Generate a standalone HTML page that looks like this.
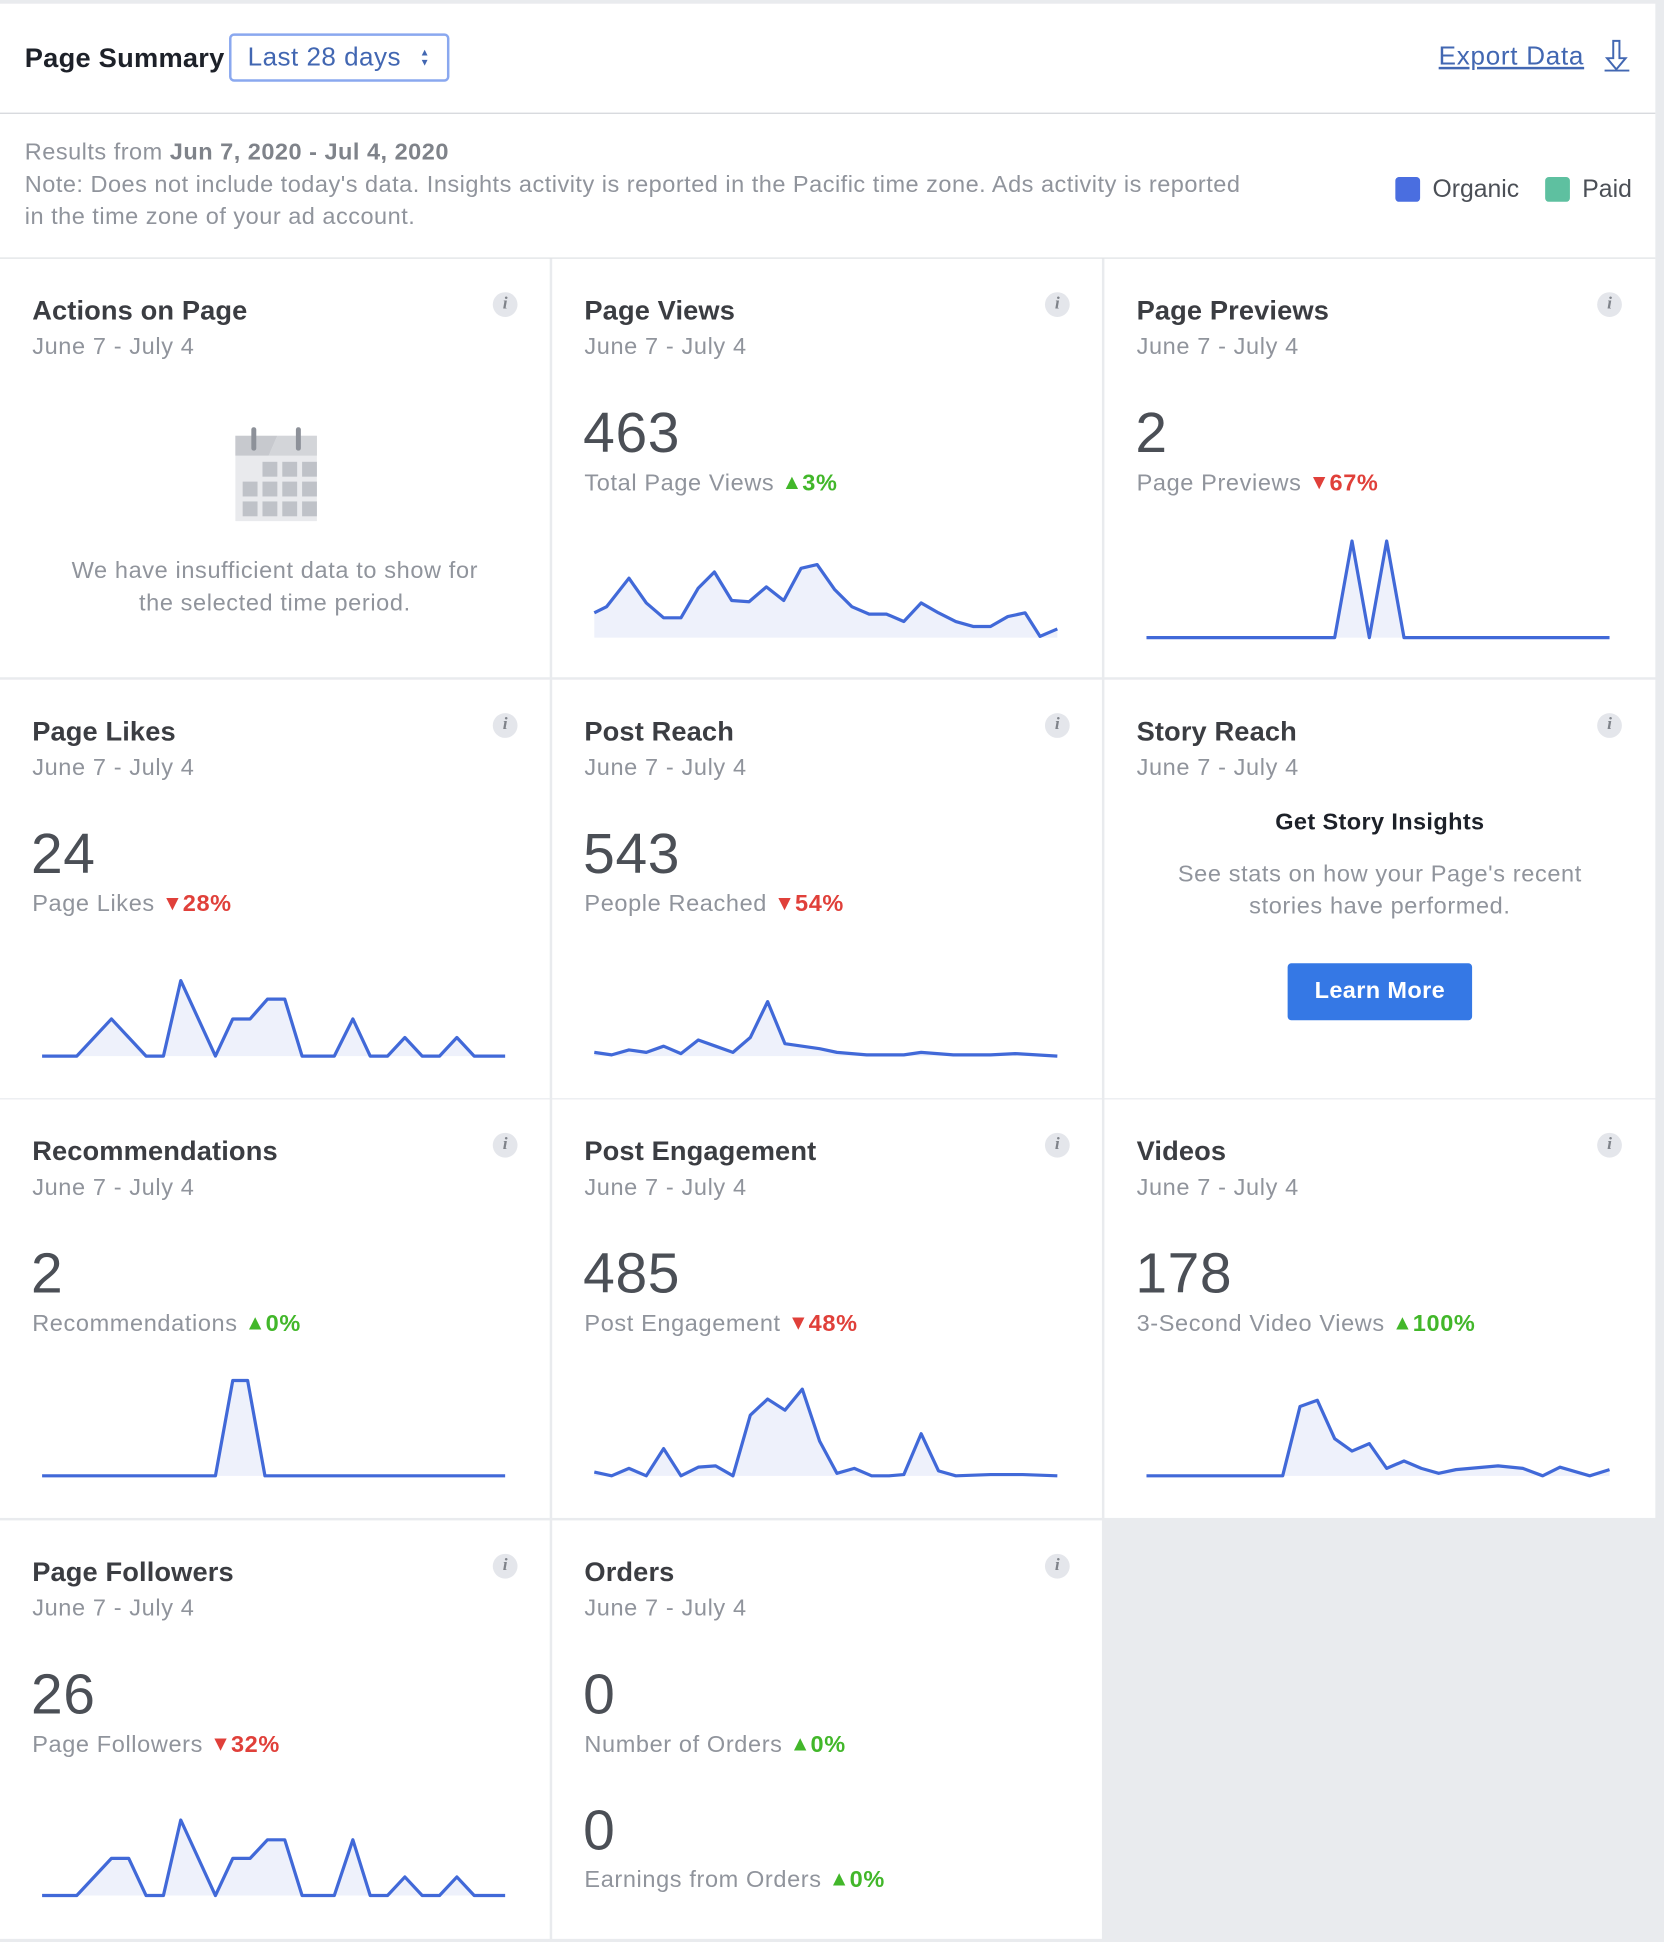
<!DOCTYPE html>
<html><head><meta charset="utf-8">
<style>
html,body{margin:0;padding:0;background:#e9ebee;width:1664px;height:1942px;overflow:hidden}
#w{position:absolute;left:0;top:0;width:1344px;height:1568px;transform:scale(1.2381);transform-origin:0 0;font-family:"Liberation Sans",sans-serif;background:#e9ebee}
.a{position:absolute;white-space:nowrap}
.card{position:absolute;background:#fff;width:444px;height:338px}
.tt{position:absolute;left:26px;top:27px;font-size:22px;font-weight:bold;color:#3b3d42;line-height:30px;letter-spacing:0.1px}
.dt{position:absolute;left:26px;top:58px;font-size:19px;color:#90949c;line-height:28px;letter-spacing:0.5px}
.nm{position:absolute;left:25px;top:111px;font-size:46px;color:#4b4f56;line-height:58px;letter-spacing:0.5px}
.sb{position:absolute;left:26px;top:168px;font-size:19px;color:#90949c;line-height:28px;letter-spacing:0.5px}
.up{color:#42b72a;font-weight:bold}
.dn{color:#e0403a;font-weight:bold}
.tri{font-size:17px;position:relative;top:-1px;letter-spacing:0}
.inf{position:absolute;left:398px;top:27px;width:20px;height:20px;border-radius:50%;background:#e4e6eb;color:#7f838a;font:italic bold 14px "Liberation Serif",serif;text-align:center;line-height:20px}
</style></head><body><div id="w">
<div class="a" style="left:0;top:3px;width:1337px;height:88px;background:#fff;border-bottom:1px solid #d0d3d8"></div>
<div class="a" style="left:20px;top:32px;font-size:22px;font-weight:bold;color:#1d2129;line-height:30px;letter-spacing:0.2px">Page Summary</div>
<div class="a" style="left:185px;top:27px;width:178px;height:39px;border:2px solid #8aa8ef;border-radius:4px;box-sizing:border-box;font-size:21px;color:#4267b2;line-height:35px;padding-left:13px;letter-spacing:0.4px">Last 28 days</div>
<div class="a" style="left:339px;top:39px;font-size:8px;color:#4267b2;line-height:8px">&#9650;<br>&#9660;</div>
<div class="a" style="left:1162px;top:31px;font-size:21px;color:#4267b2;text-decoration:underline;line-height:30px;letter-spacing:0.6px">Export Data</div>
<svg class="a" style="left:1294px;top:30px" width="24" height="30"><path d="M9 3h5v14h5l-7.5 9-7.5-9h5z" fill="none" stroke="#4267b2" stroke-width="1.6"/><line x1="2" y1="27" x2="22" y2="27" stroke="#4267b2" stroke-width="1.6"/></svg>
<div class="a" style="left:0;top:92px;width:1337px;height:116px;background:#fff;border-bottom:1px solid #dddfe2"></div>
<div class="a" style="left:20px;top:111px;font-size:19px;color:#90949c;line-height:26px;white-space:normal;width:1035px;letter-spacing:0.4px">Results from <b style="color:#7f838a">Jun 7, 2020 - Jul 4, 2020</b><br>Note: Does not include today's data. Insights activity is reported in the Pacific time zone. Ads activity is reported<br>in the time zone of your ad account.</div>
<div class="a" style="left:1127px;top:143px;width:20px;height:20px;border-radius:3px;background:#4a6ee0"></div>
<div class="a" style="left:1157px;top:139px;font-size:20px;color:#4b4f56;line-height:28px">Organic</div>
<div class="a" style="left:1248px;top:143px;width:20px;height:20px;border-radius:3px;background:#5ec0a0"></div>
<div class="a" style="left:1278px;top:139px;font-size:20px;color:#4b4f56;line-height:28px">Paid</div>

<div class="card" style="left:0;top:209px">
 <div class="tt">Actions on Page</div><div class="dt">June 7 - July 4</div><div class="inf">i</div>
 <svg class="a" style="left:190px;top:136px" width="66" height="76"><rect x="0" y="7" width="66" height="69" fill="#e9eaed"/><path d="M0 7h34l-7 16H0z" fill="#c7c9ce"/><path d="M34 7h32v16H27z" fill="#d3d5d9"/><rect x="13" y="0" width="4" height="19" rx="2" fill="#8d9199"/><rect x="49" y="0" width="4" height="19" rx="2" fill="#8d9199"/>
 <g fill="#bfc2c8"><rect x="22" y="28" width="12" height="12"/><rect x="38" y="28" width="12" height="12"/><rect x="54" y="28" width="12" height="12"/><rect x="6" y="44" width="12" height="12"/><rect x="22" y="44" width="12" height="12"/><rect x="38" y="44" width="12" height="12"/><rect x="54" y="44" width="12" height="12"/><rect x="6" y="60" width="12" height="12"/><rect x="22" y="60" width="12" height="12"/><rect x="38" y="60" width="12" height="12"/><rect x="54" y="60" width="12" height="12"/></g></svg>
 <div class="a" style="left:0;width:444px;top:240px;text-align:center;font-size:19px;color:#90949c;line-height:26px;white-space:normal;letter-spacing:0.5px">We have insufficient data to show for<br>the selected time period.</div>
</div>
<div class="card" style="left:446px;top:209px">
 <div class="tt">Page Views</div><div class="dt">June 7 - July 4</div><div class="inf">i</div>
 <div class="nm">463</div><div class="sb">Total Page Views <span class="up"><span class="tri">&#9650;</span>3%</span></div>
</div>
<div class="card" style="left:892px;top:209px;width:445px">
 <div class="tt">Page Previews</div><div class="dt">June 7 - July 4</div><div class="inf">i</div>
 <div class="nm">2</div><div class="sb">Page Previews <span class="dn"><span class="tri">&#9660;</span>67%</span></div>
</div>
<div class="card" style="left:0;top:549px">
 <div class="tt">Page Likes</div><div class="dt">June 7 - July 4</div><div class="inf">i</div>
 <div class="nm">24</div><div class="sb">Page Likes <span class="dn"><span class="tri">&#9660;</span>28%</span></div>
</div>
<div class="card" style="left:446px;top:549px">
 <div class="tt">Post Reach</div><div class="dt">June 7 - July 4</div><div class="inf">i</div>
 <div class="nm">543</div><div class="sb">People Reached <span class="dn"><span class="tri">&#9660;</span>54%</span></div>
</div>
<div class="card" style="left:892px;top:549px;width:445px">
 <div class="tt">Story Reach</div><div class="dt">June 7 - July 4</div><div class="inf">i</div>
 <div class="a" style="left:0;width:445px;top:102px;text-align:center;font-size:19px;font-weight:bold;color:#1d2129;line-height:28px;letter-spacing:0.3px">Get Story Insights</div>
 <div class="a" style="left:0;width:445px;top:145px;text-align:center;font-size:19px;color:#90949c;line-height:26px;white-space:normal;letter-spacing:0.5px">See stats on how your Page's recent<br>stories have performed.</div>
 <div class="a" style="left:148px;top:229px;width:149px;height:46px;border-radius:3px;background:#3578e5;color:#fff;font-size:19px;font-weight:bold;text-align:center;line-height:46px;letter-spacing:0.3px">Learn More</div>
</div>
<div class="card" style="left:0;top:888px">
 <div class="tt">Recommendations</div><div class="dt">June 7 - July 4</div><div class="inf">i</div>
 <div class="nm">2</div><div class="sb">Recommendations <span class="up"><span class="tri">&#9650;</span>0%</span></div>
</div>
<div class="card" style="left:446px;top:888px">
 <div class="tt">Post Engagement</div><div class="dt">June 7 - July 4</div><div class="inf">i</div>
 <div class="nm">485</div><div class="sb">Post Engagement <span class="dn"><span class="tri">&#9660;</span>48%</span></div>
</div>
<div class="card" style="left:892px;top:888px;width:445px">
 <div class="tt">Videos</div><div class="dt">June 7 - July 4</div><div class="inf">i</div>
 <div class="nm">178</div><div class="sb">3-Second Video Views <span class="up"><span class="tri">&#9650;</span>100%</span></div>
</div>
<div class="card" style="left:0;top:1228px">
 <div class="tt">Page Followers</div><div class="dt">June 7 - July 4</div><div class="inf">i</div>
 <div class="nm">26</div><div class="sb">Page Followers <span class="dn"><span class="tri">&#9660;</span>32%</span></div>
</div>
<div class="card" style="left:446px;top:1228px">
 <div class="tt">Orders</div><div class="dt">June 7 - July 4</div><div class="inf">i</div>
 <div class="nm">0</div><div class="sb">Number of Orders <span class="up"><span class="tri">&#9650;</span>0%</span></div>
 <div class="nm" style="top:221px">0</div><div class="sb" style="top:277px">Earnings from Orders <span class="up"><span class="tri">&#9650;</span>0%</span></div>
</div>

<svg class="a" style="left:0;top:0" width="1344" height="1568">
<g fill="#eef1fb" stroke="none">
<polygon points="480,515 480,495 490,490 508,467 522,487 536,499 550,499 564,475 577,462 591,485 605,486 619,474 633,485 647,459 660,456 674,476 688,490 702,496 716,496 730,502 744,487 758,495 772,502 786,506 800,506 814,498 828,495 840,514 854,508 854,515"/>
<polygon points="1078,515 1092,437 1106,515 1120,437 1134,515"/>
<polygon points="34,853 62,853 90,823 118,853 132,853 146,792 174,853 188,823 202,823 216,807 230,807 244,853 270,853 285,823 299,853 313,853 327,838 341,853 355,853 369,838 383,853"/>
<polygon points="480,853 480,850 494,852 508,848 522,850 536,845 550,851 564,840 578,845 592,850 606,838 620,809 634,843 648,845 662,847 676,850 700,852 730,852 744,850 770,852 800,852 820,851 854,853"/>
<polygon points="174,1192 188,1115 200,1115 214,1192"/>
<polygon points="480,1192 480,1189 494,1192 508,1186 522,1192 536,1170 550,1192 564,1185 578,1184 592,1192 606,1143 620,1130 634,1139 648,1122 662,1164 676,1190 690,1186 704,1192 718,1192 730,1191 744,1158 758,1188 772,1192 800,1191 826,1191 854,1192"/>
<polygon points="1036,1192 1050,1136 1064,1131 1078,1162 1092,1172 1106,1166 1120,1186 1134,1180 1148,1186 1162,1190 1176,1187 1210,1184 1230,1186 1246,1192 1260,1185 1284,1192 1300,1187 1300,1192"/>
<polygon points="62,1531 90,1501 104,1501 118,1531 132,1531 146,1470 174,1531 188,1501 202,1501 216,1486 230,1486 244,1531 270,1531 285,1486 299,1531 313,1531 327,1516 341,1531 355,1531 369,1516 383,1531"/>
</g>
<g fill="none" stroke="#4169d8" stroke-width="2.6" stroke-linejoin="round">
<polyline points="480,495 490,490 508,467 522,487 536,499 550,499 564,475 577,462 591,485 605,486 619,474 633,485 647,459 660,456 674,476 688,490 702,496 716,496 730,502 744,487 758,495 772,502 786,506 800,506 814,498 828,495 840,514 854,508"/>
<polyline points="926,515 1078,515 1092,437 1106,515 1120,437 1134,515 1300,515"/>
<polyline points="34,853 62,853 90,823 118,853 132,853 146,792 174,853 188,823 202,823 216,807 230,807 244,853 270,853 285,823 299,853 313,853 327,838 341,853 355,853 369,838 383,853 408,853"/>
<polyline points="480,850 494,852 508,848 522,850 536,845 550,851 564,840 578,845 592,850 606,838 620,809 634,843 648,845 662,847 676,850 700,852 730,852 744,850 770,852 800,852 820,851 854,853"/>
<polyline points="34,1192 174,1192 188,1115 200,1115 214,1192 408,1192"/>
<polyline points="480,1189 494,1192 508,1186 522,1192 536,1170 550,1192 564,1185 578,1184 592,1192 606,1143 620,1130 634,1139 648,1122 662,1164 676,1190 690,1186 704,1192 718,1192 730,1191 744,1158 758,1188 772,1192 800,1191 826,1191 854,1192"/>
<polyline points="926,1192 1036,1192 1050,1136 1064,1131 1078,1162 1092,1172 1106,1166 1120,1186 1134,1180 1148,1186 1162,1190 1176,1187 1210,1184 1230,1186 1246,1192 1260,1185 1284,1192 1300,1187"/>
<polyline points="34,1531 62,1531 90,1501 104,1501 118,1531 132,1531 146,1470 174,1531 188,1501 202,1501 216,1486 230,1486 244,1531 270,1531 285,1486 299,1531 313,1531 327,1516 341,1531 355,1531 369,1516 383,1531 408,1531"/>
</g>
</svg>
</div></body></html>
